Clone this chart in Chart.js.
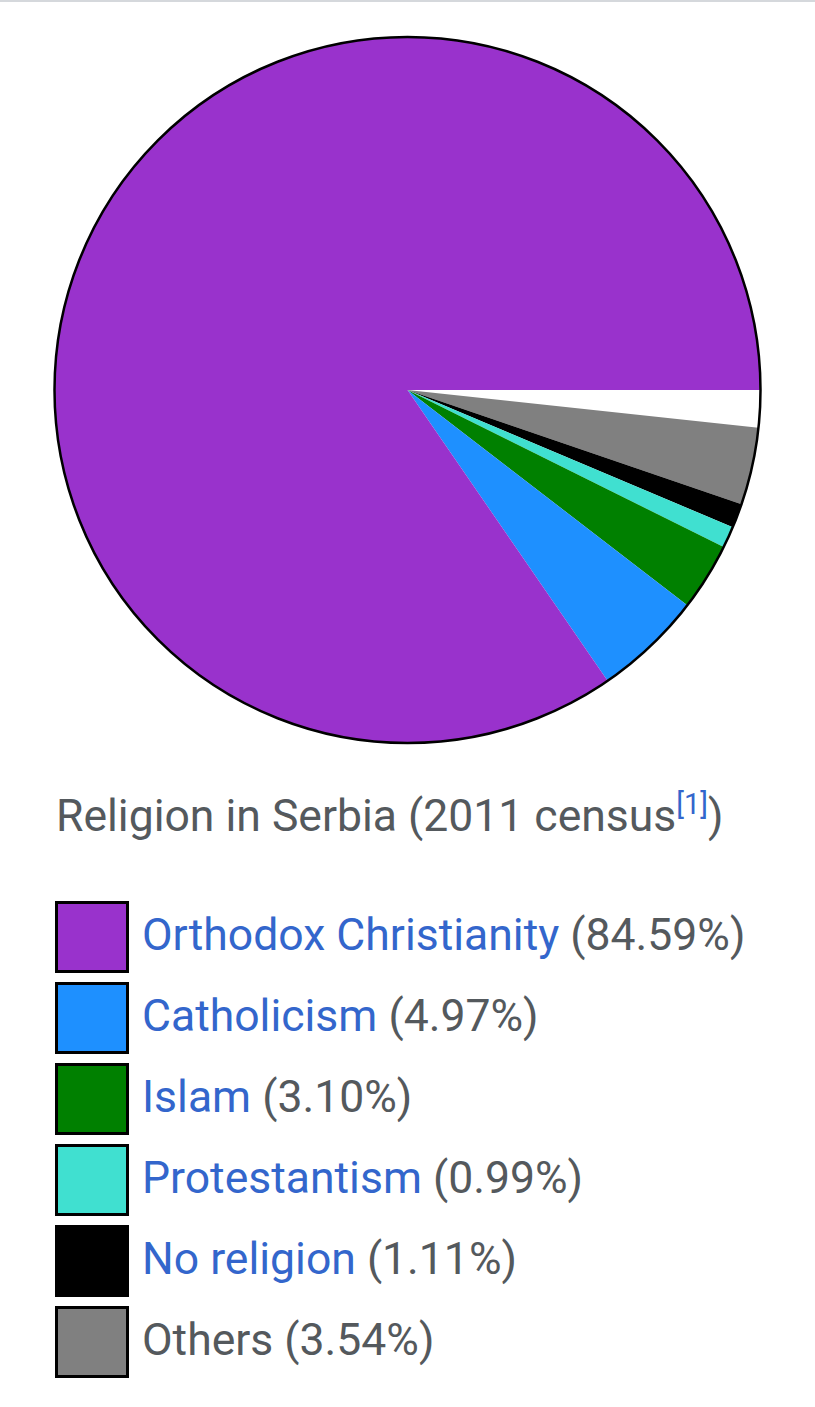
<!DOCTYPE html>
<html lang="en">
<head>
<meta charset="UTF-8">
<title>Religion in Serbia</title>
<script src="https://cdn.jsdelivr.net/npm/chart.js"></script>
<style>
  body { margin: 0; background: #fff; font-family: Roboto, "Noto Sans", sans-serif; }
  .topline { position: absolute; left: 0; top: 0; width: 815px; height: 2px; background: #d5d8dc; }
  #pie_box { position: absolute; left: 0; top: 35px; width: 815px; height: 710px; }
  #title { position: absolute; left: 56px; top: 790px; font-size: 44.5px; line-height: 52px; color: #54595d; white-space: nowrap; }
  #title sup { color: #3366cc; font-size: 29px; vertical-align: 0; position: relative; top: -17px; }
  #legend { position: absolute; left: 55px; top: 901px; }
  .row { position: relative; height: 81px; }
  .swatch { position: absolute; left: 0; top: 0; width: 68px; height: 66px; border: 3px solid #000; }
  .label { position: absolute; left: 87px; top: 8px; font-size: 44.5px; line-height: 52px; color: #54595d; white-space: nowrap; }
  .label a { color: #3366cc; text-decoration: none; }
</style>
</head>
<body>
<div class="topline"></div>
<div id="pie_box"><canvas id="religion_chart"></canvas></div>
<div id="title">Religion in Serbia (2011 census<sup>[1]</sup>)</div>
<div id="legend"></div>

<script>
  // legend order (counter-clockwise from 3 o'clock in the picture)
  var religions = ['Orthodox Christianity', 'Catholicism', 'Islam', 'Protestantism', 'No religion', 'Others'];
  var shares = [84.59, 4.97, 3.10, 0.99, 1.11, 3.54];
  var colours = ['#9932cc', '#1e90ff', '#008000', '#40e0d0', '#000000', '#808080'];
  var linked = [true, true, true, true, true, false];
  // the part not accounted for stays white
  var unaccounted = 1.70;

  // Chart.js draws clockwise, so feed slices in reverse to get the counter-clockwise look
  var pieLabels = ['Undeclared'].concat(religions.slice().reverse());
  var pieValues = [unaccounted].concat(shares.slice().reverse());
  var pieColours = ['#ffffff'].concat(colours.slice().reverse());

  const outline = {
    id: 'outline',
    afterDatasetsDraw(chart) {
      var arc = chart.getDatasetMeta(0).data[0];
      if (!arc) return;
      var ctx = chart.ctx;
      ctx.save();
      ctx.beginPath();
      ctx.arc(arc.x, arc.y, arc.outerRadius, 0, Math.PI * 2);
      ctx.lineWidth = 2.5;
      ctx.strokeStyle = '#000';
      ctx.stroke();
      ctx.restore();
    }
  };

  new Chart(document.getElementById('religion_chart'), {
    type: 'pie',
    data: {
      labels: pieLabels,
      datasets: [{
        data: pieValues,
        backgroundColor: pieColours,
        borderWidth: 0
      }]
    },
    options: {
      responsive: true,
      maintainAspectRatio: false,
      animation: false,
      rotation: 90,
      layout: { padding: 2 },
      plugins: {
        legend: { display: false },
        tooltip: { enabled: false }
      }
    },
    plugins: [outline]
  });

  var legend = document.getElementById('legend');
  for (var i = 0; i < religions.length; i++) {
    var row = document.createElement('div');
    row.className = 'row';
    var sw = document.createElement('div');
    sw.className = 'swatch';
    sw.style.background = colours[i];
    var lab = document.createElement('div');
    lab.className = 'label';
    var name = linked[i] ? '<a>' + religions[i] + '</a>' : religions[i];
    lab.innerHTML = name + ' (' + shares[i].toFixed(2) + '%)';
    row.appendChild(sw);
    row.appendChild(lab);
    legend.appendChild(row);
  }
</script>
</body>
</html>
